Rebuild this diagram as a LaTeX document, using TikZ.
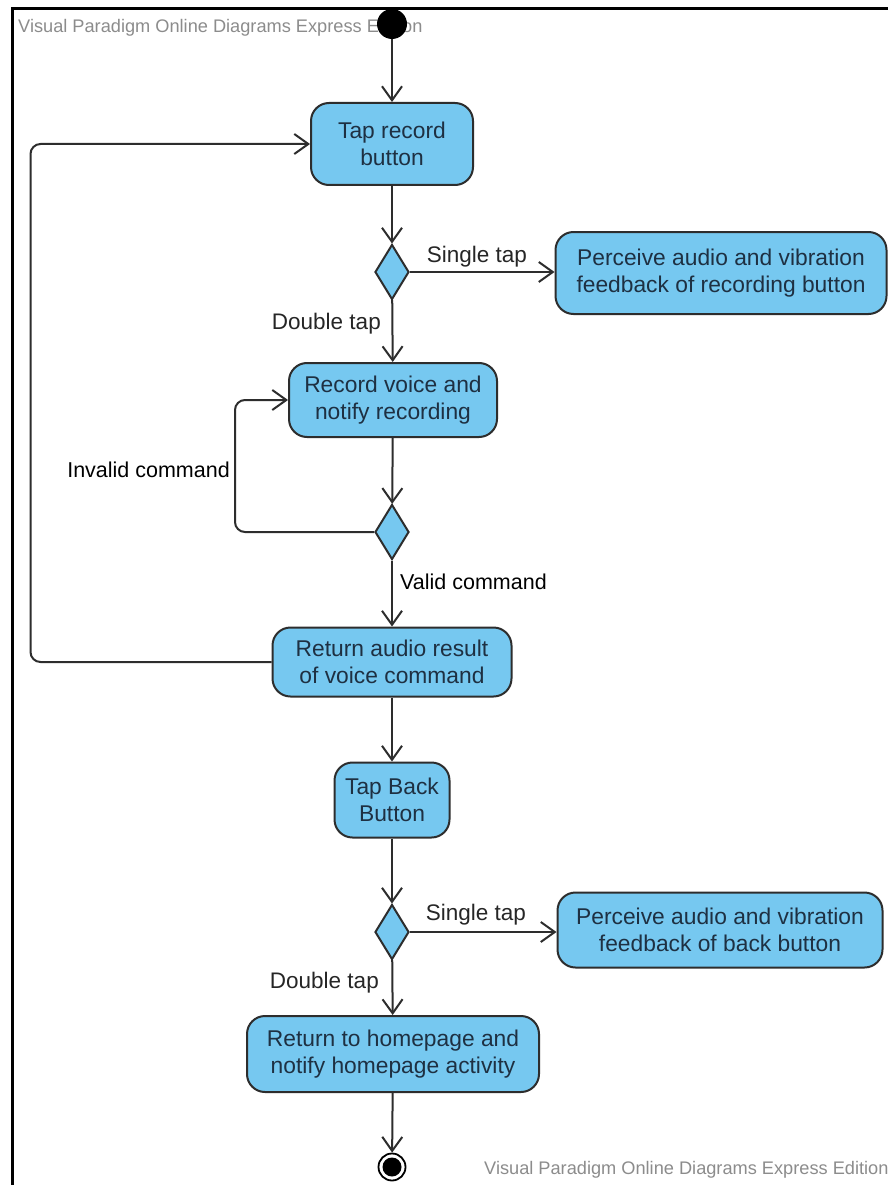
\documentclass[tikz,border=0pt]{standalone}
\usepackage{fontspec}
\setmainfont{Liberation Sans}
\usetikzlibrary{shapes.geometric,arrows.meta}
\definecolor{actfill}{RGB}{118,200,240}
\definecolor{edge}{RGB}{45,45,45}
\definecolor{boxtext}{RGB}{30,48,66}
\definecolor{mark}{RGB}{140,140,140}
\begin{document}
\begin{tikzpicture}[x=1pt,y=-1pt,
  action/.style={draw=edge, line width=2pt, fill=actfill, rounded corners=18pt,
    align=center, text=boxtext, font=\fontsize{22.8}{27}\selectfont, inner sep=0pt},
  choice/.style={diamond, draw=edge, line width=2pt, fill=actfill, inner sep=0pt,
    minimum width=34pt, minimum height=55pt},
  flow/.style={draw=edge, line width=2pt, -{Straight Barb[length=14pt,width=20pt]}},
  guard/.style={font=\fontsize{22.5}{27}\selectfont, text=black!85, inner sep=0pt},
  check/.style={font=\fontsize{21.5}{26}\selectfont, text=black, inner sep=0pt},
  watermark/.style={font=\fontsize{18.2}{21}\selectfont, text=mark, inner sep=0pt}]

\useasboundingbox (0,0) rectangle (888,1185);
\fill[white] (0,0) rectangle (888,1185);
\draw[line width=3pt] (12,1185) -- (12,9) -- (888,9);

% editor watermarks
\node[watermark, anchor=west] (wmtop) at (18,28) {Visual Paradigm Online Diagrams Express Edition};
\node[watermark, anchor=west] (wmbot) at (484,1170) {Visual Paradigm Online Diagrams Express Edition};

% initial and final nodes
\node[circle, fill=black, minimum size=30pt, inner sep=0pt] (start) at (392,24) {};
\node[circle, draw=black, line width=1.8pt, fill=white, minimum size=27pt, inner sep=0pt] (final) at (392,1167) {};
\node[circle, fill=black, minimum size=19pt, inner sep=0pt] (finalcore) at (final) {};

% actions
\node[action, minimum width=162pt, minimum height=82pt] (tap) at (392,144) {Tap record\\button};
\node[choice] (d1) at (392,272) {};
\node[action, minimum width=331pt, minimum height=82pt] (fb1) at (721,273) {Perceive audio and vibration\\feedback of recording button};
\node[action, minimum width=208pt, minimum height=74pt] (record) at (393,400) {Record voice and\\notify recording};
\node[choice] (d2) at (392,532) {};
\node[action, minimum width=239pt, minimum height=69pt] (ret) at (392,662) {Return audio result\\of voice command};
\node[action, minimum width=115pt, minimum height=75pt] (back) at (392,800) {Tap Back\\Button};
\node[choice] (d3) at (392,932) {};
\node[action, minimum width=325pt, minimum height=75pt] (fb2) at (720,930) {Perceive audio and vibration\\feedback of back button};
\node[action, minimum width=292pt, minimum height=76pt] (home) at (393,1054) {Return to homepage and\\notify homepage activity};

% guard labels
\node[guard] (single1) at (477,257) {Single tap};
\node[guard, anchor=east] (double1) at (381,324) {Double tap};
\node[check, anchor=east] (invalid) at (230,470) {Invalid command};
\node[check, anchor=west] (valid) at (400,582) {Valid command};
\node[guard] (single2) at (476,915) {Single tap};
\node[guard, anchor=east] (double2) at (379,983) {Double tap};

% control flows
\draw[flow] (start) -- (tap);
\draw[flow] (tap) -- (d1);
\draw[flow] (d1.east) -- (d1.east -| fb1.west);
\draw[flow] (d1) -- (record);
\draw[flow] (record) -- (d2);
\draw[flow, rounded corners=10pt] (d2.west) -- ++(-139,0) |- (record.west);
\draw[flow] (d2) -- (ret);
\draw[flow, rounded corners=10pt] (ret.west) -- ++(-241,0) |- (tap.west);
\draw[flow] (ret) -- (back);
\draw[flow] (back) -- (d3);
\draw[flow] (d3.east) -- (d3.east -| fb2.west);
\draw[flow] (d3) -- (home);
\draw[flow] (home) -- (final);
\end{tikzpicture}
\end{document}
